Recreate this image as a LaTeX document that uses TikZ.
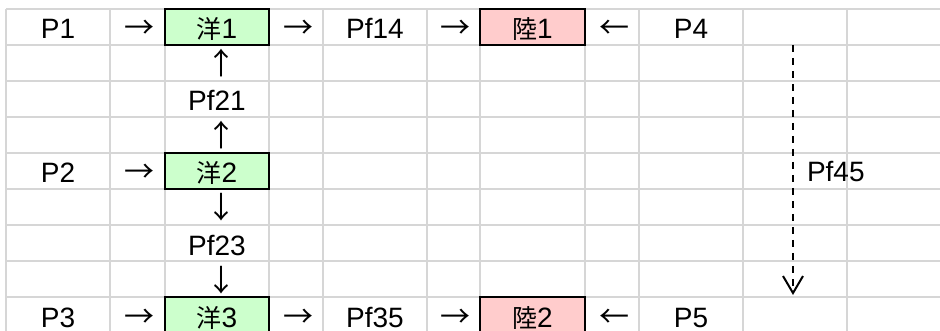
\documentclass[tikz,border=0pt]{standalone}
\usepackage{fontspec}
\setmainfont{Liberation Sans}
\newfontfamily\cjk{Noto Sans CJK JP}
\usetikzlibrary{arrows.meta}
\definecolor{gridgray}{HTML}{D6D6D6}
\definecolor{yogreen}{HTML}{CCFFCC}
\definecolor{rikupink}{HTML}{FFCCCC}
\newcommand{\kj}[1]{{\cjk\fontsize{25}{30}\selectfont #1}}
\newcommand{\ar}[1]{{\cjk\fontsize{30}{32}\selectfont #1}}

\begin{document}
\begin{tikzpicture}[x=1pt, y=-1pt,
	cell/.style={inner sep=0pt, text height=24pt, text depth=0pt, font=\fontsize{28}{32}\selectfont},
	harrow/.style={cell, xshift=2pt},
	varrow/.style={cell, xshift=4pt},
	yobox/.style={cell, draw=black, line width=2pt, fill=yogreen, minimum width=104pt, minimum height=36pt},
	rikubox/.style={yobox, fill=rikupink, minimum width=105pt}]
	\useasboundingbox (0,0) rectangle (940,331);
	\fill[white] (0,0) rectangle (940,331);
	
	% 1. 表のグリッド
	\foreach \gx in {6,110,165,269,323,427,480,585,639,743,847}
		\draw[gridgray, line width=2pt] (\gx,9) -- (\gx,331);
	\foreach \gy in {9,45,...,297}
		\draw[gridgray, line width=2pt] (6,\gy) -- (940,\gy);
	
	% 2. 1行目
	\node[cell] (p1) at (58,27) {P1};
	\node[harrow] (a11) at (137.5,27) {\ar{→}};
	\node[yobox] (yo1) at (217,27) {\kj{洋}1};
	\node[harrow] (a12) at (296,27) {\ar{→}};
	\node[cell] (pf14) at (375,27) {Pf14};
	\node[harrow] (a13) at (453.5,27) {\ar{→}};
	\node[rikubox] (riku1) at (532.5,27) {\kj{陸}1};
	\node[harrow] (a14) at (612,27) {\ar{←}};
	\node[cell] (p4) at (691,27) {P4};
	
	% 3. 洋1 -- 洋2 -- 洋3 の列
	\node[varrow] (u1) at (217,63) {\ar{↑}};
	\node[cell] (pf21) at (217,99) {Pf21};
	\node[varrow] (u2) at (217,135) {\ar{↑}};
	\node[cell] (p2) at (58,171) {P2};
	\node[harrow] (a21) at (137.5,171) {\ar{→}};
	\node[yobox] (yo2) at (217,171) {\kj{洋}2};
	\node[varrow] (d1) at (217,207) {\ar{↓}};
	\node[cell] (pf23) at (217,243) {Pf23};
	\node[varrow] (d2) at (217,279) {\ar{↓}};
	
	% 4. 最終行
	\node[cell] (p3) at (58,315) {P3};
	\node[harrow] (a31) at (137.5,315) {\ar{→}};
	\node[yobox] (yo3) at (217,315) {\kj{洋}3};
	\node[harrow] (a32) at (296,315) {\ar{→}};
	\node[cell] (pf35) at (375,315) {Pf35};
	\node[harrow] (a33) at (453.5,315) {\ar{→}};
	\node[rikubox] (riku2) at (532.5,315) {\kj{陸}2};
	\node[harrow] (a34) at (612,315) {\ar{←}};
	\node[cell] (p5) at (691,315) {P5};
	
	% 5. 破線の矢印 Pf45
	\coordinate (d45s) at (793,45);
	\coordinate (d45e) at (793,295);
	\draw[line width=2pt, dash pattern=on 7pt off 6pt, -{Straight Barb[length=17pt, width=20pt]}]
		(d45s) -- node[cell, right, xshift=13pt] (pf45) {Pf45} (d45e);
\end{tikzpicture}
\end{document}
